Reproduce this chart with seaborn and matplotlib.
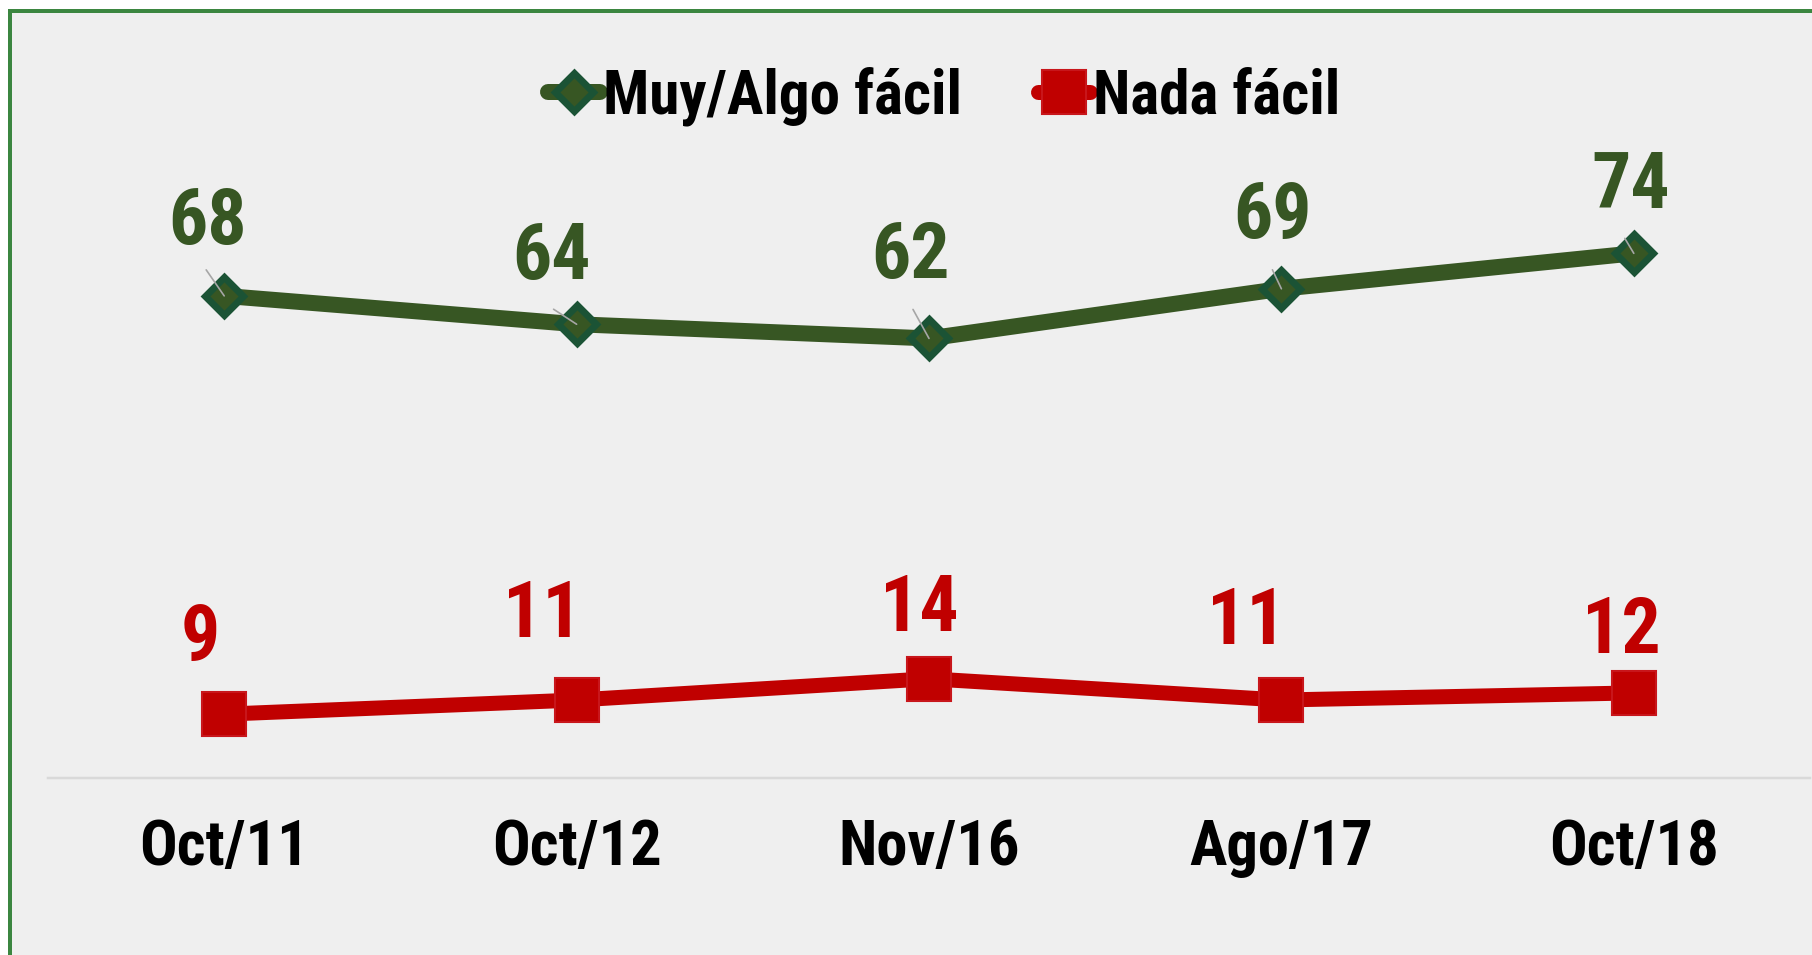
import pandas as pd
import seaborn as sns
import matplotlib.pyplot as plt
from matplotlib.patches import Rectangle

fechas = ['Oct/11', 'Oct/12', 'Nov/16', 'Ago/17', 'Oct/18']
facil = [68, 64, 62, 69, 74]
nada_facil = [9, 11, 14, 11, 12]

# label offsets from each marker, in pixels (dx, dy; dy<0 is up)
off_facil = [(-17, -73), (-25, -66), (-18, -81), (-9, -72), (-3, -66)]
off_nada = [(-24, -75), (-34, -84), (-10, -69), (-35, -77), (-12, -61)]
leader_facil = [(-18, -26), (-23, -15), (-16, -29), (-9, -19), (-9, -15)]

VERDE = '#375623'
BORDE_D = '#1B5335'
ROJO = '#C00000'
FONDO = '#EFEFEF'

sns.set_theme(style='white')
plt.rcParams['font.family'] = ['Roboto Condensed', 'DejaVu Sans']
plt.rcParams['font.weight'] = 'bold'
plt.rcParams['text.color'] = 'black'

px = 0.72  # pixel -> point at dpi 100

fig = plt.figure(figsize=(18.12, 9.55), dpi=100, facecolor='white')
fig.patches.append(Rectangle((10 / 1812, -0.1), 1.2, 1 - 11 / 955 + 0.1,
                             transform=fig.transFigure, facecolor=FONDO,
                             edgecolor='#3B8640', lw=4 * px, zorder=-5))

ax = fig.add_axes([48 / 1812, 177 / 955, 1762 / 1812, 709 / 955])
ax.set_facecolor('none')

df1 = pd.DataFrame({'fecha': fechas, 'valor': facil})
df2 = pd.DataFrame({'fecha': fechas, 'valor': nada_facil})

sns.lineplot(data=df1, x='fecha', y='valor', ax=ax, sort=False, color=VERDE,
             linewidth=16 * px, marker='D', markersize=19, markerfacecolor=VERDE,
             markeredgecolor=BORDE_D, markeredgewidth=5, solid_capstyle='round',
             label='Muy/Algo fácil')
sns.lineplot(data=df2, x='fecha', y='valor', ax=ax, sort=False, color=ROJO,
             linewidth=15 * px, marker='s', markersize=31, markerfacecolor=ROJO,
             markeredgecolor='#C8161B', markeredgewidth=1.5, solid_capstyle='round',
             label='Nada fácil')

for i, v in enumerate(facil):
    lx, ly = leader_facil[i]
    ax.annotate('', xy=(i, v), xytext=(lx * px, -ly * px), textcoords='offset points',
                arrowprops=dict(arrowstyle='-', color='#A6A6A6', lw=1.2,
                                shrinkA=0, shrinkB=0), zorder=5)
    dx, dy = off_facil[i]
    ax.annotate(str(v), xy=(i, v), xytext=(dx * px, -dy * px), textcoords='offset points',
                ha='center', va='center', fontsize=56, fontweight='bold', color=VERDE)

for i, v in enumerate(nada_facil):
    dx, dy = off_nada[i]
    ax.annotate(str(v), xy=(i, v), xytext=(dx * px, -dy * px), textcoords='offset points',
                ha='center', va='center', fontsize=56, fontweight='bold', color=ROJO)

ax.set_xlim(-0.5, 4.5)
ax.set_ylim(0, 100)
ax.set_yticks([])
ax.set_xlabel('')
ax.set_ylabel('')
for s in ['left', 'right', 'top']:
    ax.spines[s].set_visible(False)
ax.spines['bottom'].set_color('#D9D9D9')
ax.spines['bottom'].set_linewidth(2.5 * px)
ax.tick_params(axis='x', length=0, pad=29, labelsize=45, labelcolor='black')
for t in ax.get_xticklabels():
    t.set_fontweight('bold')

handles, labels = ax.get_legend_handles_labels()
if ax.get_legend() is not None:
    ax.get_legend().remove()
fig.legend(handles, labels, loc='center', bbox_to_anchor=(944 / 1812, 1 - 96 / 955),
           ncol=2, frameon=False, handlelength=0.85, labelcolor='black',
           handletextpad=0.05, columnspacing=1.25, prop={'weight': 'bold', 'size': 44})

fig.savefig('out.png', dpi=100, facecolor='white')
